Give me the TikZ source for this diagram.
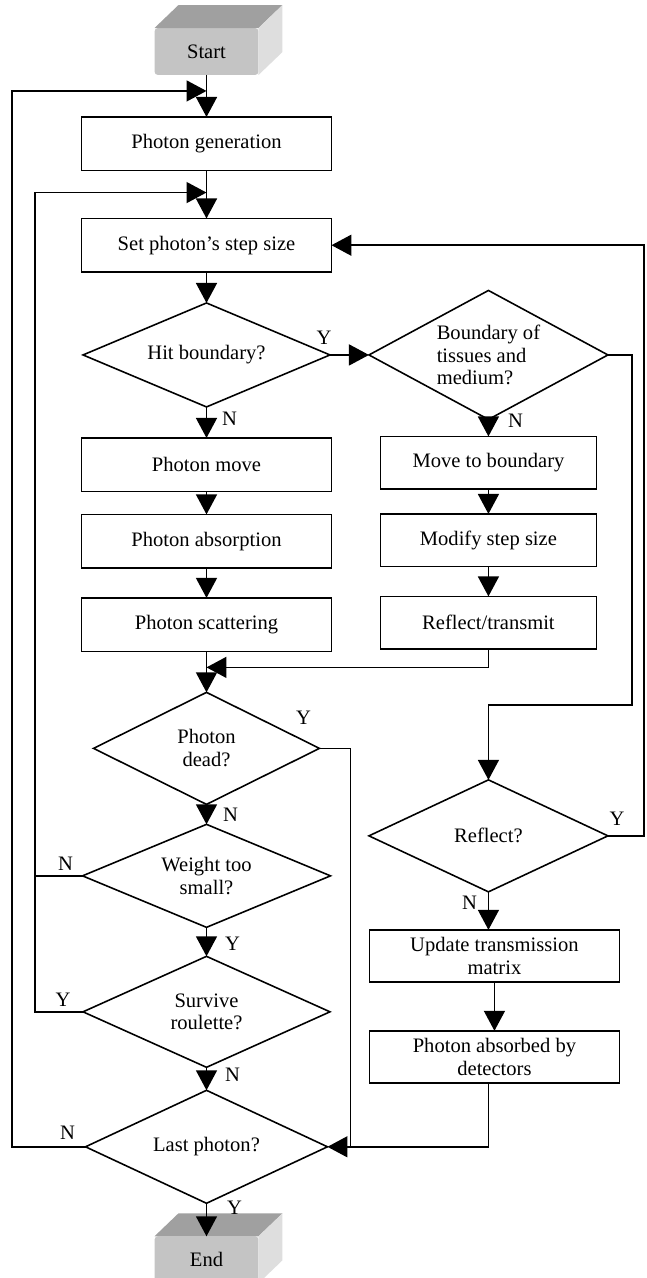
\documentclass[tikz,border=0pt]{standalone}
\usepackage{fontspec}
\setmainfont{Liberation Serif}
\usetikzlibrary{positioning,shapes.geometric,arrows.meta,calc}

\definecolor{termfront}{RGB}{196,196,196}
\definecolor{termtop}{RGB}{160,160,160}
\definecolor{termside}{RGB}{222,222,222}

\tikzset{
  box/.style={draw, line width=0.9pt, outer sep=0pt, minimum width=5cm, minimum height=1.07cm, align=center, inner sep=1pt},
  sbox/.style={box, minimum width=4.32cm, minimum height=1.05cm},
  dec/.style={draw, diamond, aspect=2.2, line width=0.9pt, outer sep=0pt, align=center, inner sep=1pt},
  term/.style={rounded corners=2pt, fill=termfront, outer sep=0pt, minimum width=2.08cm, minimum height=0.94cm},
  arr/.style={line width=0.9pt, -{Triangle[length=0.4cm,width=0.42cm]}},
  line/.style={line width=0.9pt},
  lab/.style={inner sep=0pt}
}

% top and side faces of the grey terminal blocks
\newcommand{\termfaces}[1]{%
  \fill[termtop] (#1.north west) -- ++(24,-23) -- ($(#1.north east)+(24,-23)$) -- (#1.north east) -- cycle;
  \fill[termside] (#1.north east) -- ++(24,-23) -- ($(#1.south east)+(24,-23)$) -- (#1.south east) -- cycle;}

\begin{document}
\begin{tikzpicture}[x=0.02cm, y=-0.02cm, font=\fontsize{11.7}{13}\selectfont]
  \useasboundingbox (0,0) rectangle (646,1278);
  \node[term] (start) at (206.5,51.5) {Start};
  \termfaces{start}
  \node[box, below=0.84cm of start] (gen) {Photon generation};
  \node[box, below=0.96cm of gen] (step) {Set photon's step size};
  \node[dec, below=0.62cm of step, minimum width=4.94cm, minimum height=2.08cm] (hit) {Hit boundary?};
  \node[box, below=0.62cm of hit] (move) {Photon move};
  \node[box, below=0.46cm of move] (absorb) {Photon absorption};
  \node[box, below=0.6cm of absorb] (scatter) {Photon scattering};
  \node[dec, below=0.82cm of scatter, minimum width=4.52cm, minimum height=2.24cm] (dead) {Photon\\dead?};
  \node[dec, below=0.4cm of dead, minimum width=4.96cm, minimum height=2.06cm] (weight) {Weight too\\small?};
  \node[dec, below=0.58cm of weight, minimum width=4.94cm, minimum height=2.22cm] (survive) {Survive\\roulette?};
  \node[dec, below=0.46cm of survive, minimum width=4.84cm, minimum height=2.26cm] (last) {Last photon?};
  \node[term, below=0.66cm of last] (end) {End};
  \termfaces{end}

  \node[dec, aspect=1.85, align=left, right=0.78cm of hit, minimum width=4.78cm, minimum height=2.58cm] (bnd) {Boundary of\\tissues and\\medium?};
  \node[sbox, below=0.34cm of bnd] (mtb) {Move to boundary};
  \node[sbox, below=0.5cm of mtb] (mod) {Modify step size};
  \node[sbox, below=0.6cm of mod] (reftr) {Reflect/transmit};
  \node[dec, below=2.62cm of reftr, minimum width=4.78cm, minimum height=2.24cm] (reflect) {Reflect?};
  \node[box, below=0.76cm of reflect, xshift=0.12cm, minimum height=1.04cm] (upd) {Update transmission\\matrix};
  \node[box, below=0.98cm of upd, minimum height=1.04cm] (absd) {Photon absorbed by\\detectors};

  \coordinate (j1) at ($(start.south)!0.38!(gen.north)$);
  \coordinate (j2) at ($(gen.south)!0.46!(step.north)$);
  \coordinate (j3) at ($(scatter.south)+(0,16)$);
  \coordinate (l1) at (12,0);
  \coordinate (l2) at (35,0);
  \coordinate (r1) at (632,705);
  \coordinate (r2) at (644,0);

  \draw[arr] (start) -- (gen);
  \draw[arr] (gen) -- (step);
  \draw[arr] (step) -- (hit);
  \draw[arr] (hit) -- (move);
  \draw[arr] (move) -- (absorb);
  \draw[arr] (absorb) -- (scatter);
  \draw[arr] (scatter) -- (dead);
  \draw[arr] (dead) -- (weight);
  \draw[arr] (weight) -- (survive);
  \draw[arr] (survive) -- (last);
  \draw[arr] (last) -- (end);
  \draw[arr] (hit) -- (bnd);
  \draw[arr] (bnd) -- (mtb);
  \draw[arr] (mtb) -- (mod);
  \draw[arr] (mod) -- (reftr);
  \draw[arr] (reftr.south) |- (j3);
  \draw[arr] (bnd.east) -| (r1) -| (reflect.north);
  \draw[arr] (reflect.east) -- (reflect.east -| r2) |- (step.east);
  \draw[arr] (reflect.south) -- (reflect.south |- upd.north);
  \draw[arr] (upd) -- (absd);
  \draw[arr] (absd.south -| reflect.south) |- (last.east);
  \draw[line] (dead.east) -- ++(31,0) coordinate (dd) -- (dd |- last.east);
  \draw[arr] (last.west) -- (last.west -| l1) |- (j1);
  \draw[arr] (weight.west) -- (weight.west -| l2) |- (j2);
  \draw[line] (survive.west) -- (survive.west -| l2) -- (weight.west -| l2);

  \node[lab] (hitY) at ($(hit.east)+(-6,-17)$) {Y};
  \node[lab] (hitN) at ($(hit.south)+(23,12)$) {N};
  \node[lab] (bndN) at ($(bnd.south)+(27,1)$) {N};
  \node[lab] (deadY) at ($(dead.east)+(-16,-31)$) {Y};
  \node[lab] (deadN) at ($(dead.south)+(24,10)$) {N};
  \node[lab] (weightN) at ($(weight.west)+(-17,-12)$) {N};
  \node[lab] (weightY) at ($(weight.south)+(26,16)$) {Y};
  \node[lab] (survY) at ($(survive.west)+(-20,-12)$) {Y};
  \node[lab] (survN) at ($(survive.south)+(26,7)$) {N};
  \node[lab] (lastN) at ($(last.west)+(-18,-14)$) {N};
  \node[lab] (lastY) at ($(last.south)+(28,4)$) {Y};
  \node[lab] (reflY) at ($(reflect.east)+(9,-17)$) {Y};
  \node[lab] (reflN) at ($(reflect.south)+(-19,11)$) {N};
\end{tikzpicture}
\end{document}
